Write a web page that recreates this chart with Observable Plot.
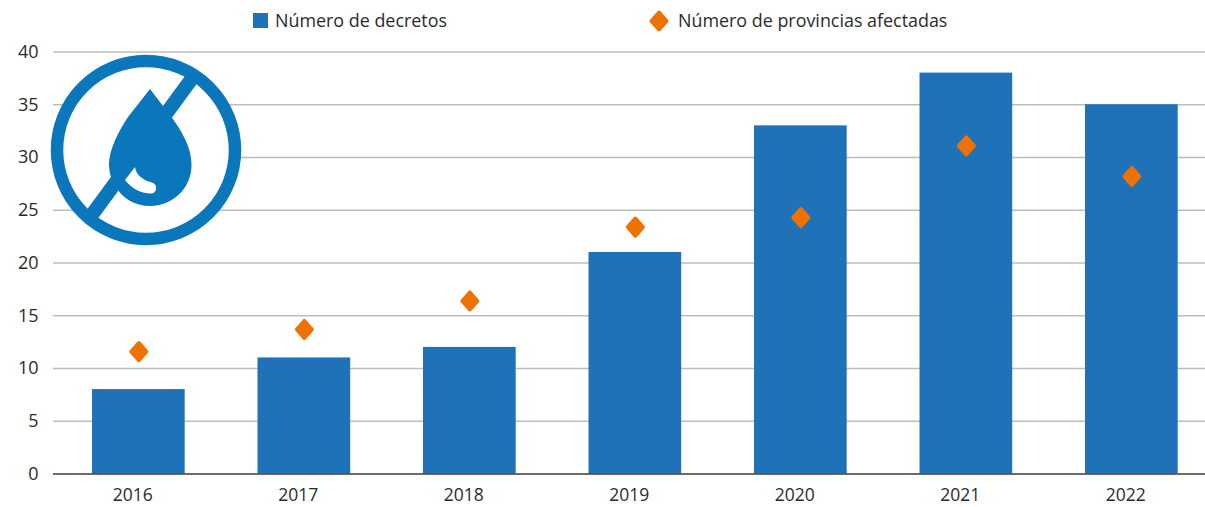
<!DOCTYPE html>
<html><head><meta charset="utf-8">
<script src="https://cdn.jsdelivr.net/npm/d3@7"></script>
<script src="https://cdn.jsdelivr.net/npm/@observablehq/plot@0.6"></script>
<style>
html,body{margin:0;padding:0;background:#fff;}
#wrap{position:relative;width:1205px;height:507px;overflow:hidden;font-family:"Open Sans",sans-serif;color:#2b2b2b;}
#legend{position:relative;height:40px;font-size:17.9px;}
#legend span{position:absolute;top:8px;line-height:24px;white-space:nowrap;}
#legend svg{position:absolute;}
#icon{position:absolute;left:0;top:0;}
svg{display:block;}
</style></head><body>
<div id="wrap">
<div id="legend">
<svg style="left:253px;top:13px" width="15" height="15"><rect width="15" height="15" fill="#1f71b8"/></svg>
<span style="left:275px">Número de decretos</span>
<svg style="left:647px;top:9px" width="24" height="24"><path d="M12 3.500L19.500 12L12 20.500L4.500 12Z" fill="#ee7203" stroke="#ee7203" stroke-width="4" stroke-linejoin="round"/></svg>
<span style="left:678px">Número de provincias afectadas</span>
</div>
<div id="chart"></div>
<svg id="icon" width="260" height="260" viewBox="0 0 260 260">
<circle cx="146" cy="150" r="89" fill="#fff" stroke="#0a76bb" stroke-width="12.5"/>
<path d="M150 89L163 106L171.500 117C183 133 191.500 148 191.500 165C191.500 189 172 206 150 206C135 206 122 198 117 188C111 180 109 172 109 164C109 150 118 132 128 117Z" fill="#0a76bb"/>
<path d="M92.500 214L193 77" stroke="#0a76bb" stroke-width="14" fill="none"/>
<path d="M135 167C136 176 145 181 152 182.500C158 184 157 193 152 193.500C141 194 131 188 125 180Z" fill="#fff"/>
</svg>
</div>
<script>
const years = ["2016","2017","2018","2019","2020","2021","2022"];
const decretos = [8,11,12,21,33,38,35];
const provincias = [11.6,13.7,16.4,23.4,24.3,31.1,28.2];
const yTicks = [0,5,10,15,20,25,30,35,40];
const barColor = "#1f71b8", dotColor = "#ee7203";

const rows = years.map((year,i)=>({year,decretos:decretos[i],provincias:provincias[i]}));
const diamond = {draw(ctx,size){const r=Math.sqrt(size);ctx.moveTo(0,-r*0.6);ctx.lineTo(r*0.53,0);ctx.lineTo(0,r*0.6);ctx.lineTo(-r*0.53,0);ctx.closePath();}};

const chart = Plot.plot({
  width:1205,height:467,
  marginLeft:53,marginRight:0,marginTop:0,marginBottom:33.5,
  style:{fontFamily:"'Open Sans',sans-serif",fontSize:"18px",color:"#2b2b2b",background:"transparent"},
  x:{type:"band",domain:years,range:[55.6,1214.1],paddingInner:0.44,paddingOuter:0.22,round:false,label:null},
  y:{domain:[0,40],range:[433.5,11.5],label:null},
  marks:[
    Plot.ruleY(yTicks.slice(1),{stroke:"#bdbdbd",strokeWidth:1.4,strokeOpacity:1}),
    Plot.barY(rows,{x:"year",y:"decretos",fill:barColor}),
    Plot.ruleY([0],{stroke:"#3a3a3a",strokeWidth:1.5}),
    Plot.dot(rows,{x:"year",y:"provincias",symbol:diamond,r:8,fill:dotColor,stroke:dotColor,strokeWidth:4,strokeLinejoin:"round"}),
    Plot.axisX({tickSize:0,tickPadding:15,dx:-6,fontSize:17.5,label:null,tickFormat:d=>d}),
    Plot.axisY({ticks:yTicks,tickSize:0,tickPadding:15,fontSize:18,label:null})
  ]
});
document.getElementById("chart").appendChild(chart);
</script>
</body></html>
